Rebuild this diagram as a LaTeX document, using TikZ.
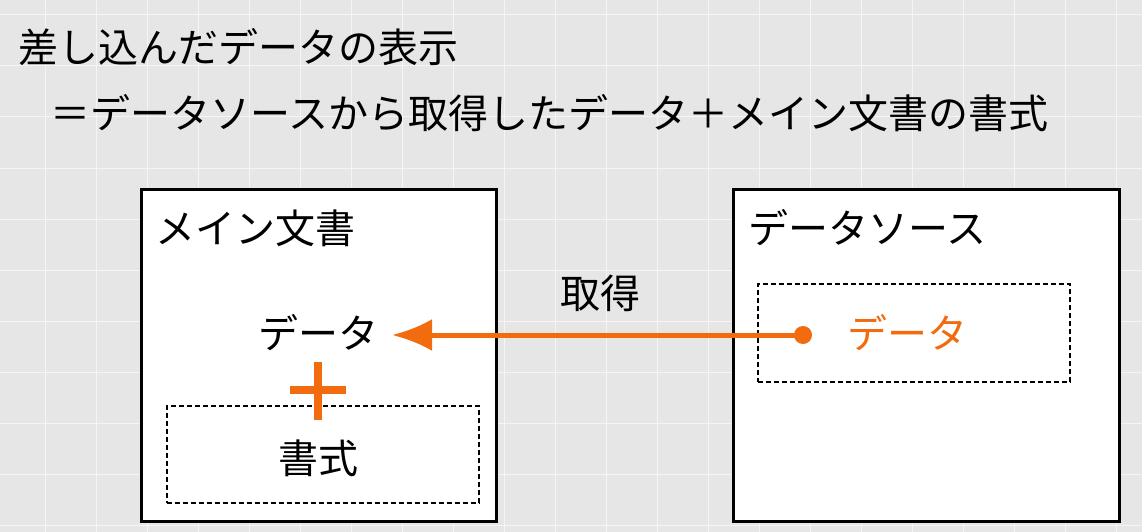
\documentclass[tikz,border=0pt]{standalone}
\usepackage{fontspec}
\usetikzlibrary{arrows.meta}
\setmainfont{Noto Sans CJK JP}
\definecolor{bg}{HTML}{E6E6E6}
\definecolor{org}{HTML}{F26B0F}
\tikzset{
 t/.style={font=\fontsize{40}{44}\selectfont, inner sep=0pt},
 frame/.style={draw=black, line width=2.5pt, fill=white},
 dbox/.style={draw=black, line width=2pt, dashed, dash pattern=on 5pt off 3pt},
}
\begin{document}
\begin{tikzpicture}[x=1pt,y=-1pt]
\fill[bg] (0,0) rectangle (1142,532);
\useasboundingbox (0,0) rectangle (1142,532);
\foreach \x in {45,96,...,1142} \draw[white!60!bg, line width=1pt] (\x,0) -- (\x,532);
\foreach \y in {15,66,...,532} \draw[white!60!bg, line width=1pt] (0,\y) -- (1142,\y);
\node[t, anchor=west] (title1) at (18,47) {差し込んだデータの表示};
\node[t, anchor=west] (title2) at (50,113) {＝データソースから取得したデータ＋メイン文書の書式};
\node[frame, minimum width=355, minimum height=332, anchor=north west] (main) at (140,188) {};
\node[frame, minimum width=386, minimum height=332, anchor=north west] (src) at (732,188) {};
\node[dbox, minimum width=312, minimum height=97, anchor=north west] (fmtbox) at (166,405) {};
\node[dbox, minimum width=312, minimum height=98, anchor=north west] (srcbox) at (757,283) {};
\node[t, anchor=west] (mainlbl) at (155,228) {メイン文書};
\node[t, anchor=west] (srclbl) at (748,228) {データソース};
\node[t] (data) at (318,333) {データ};
\node[t] (fmt) at (318,458) {書式};
\node[t, text=org] (odata) at (907,333) {データ};
\node[t] (get) at (600,293) {取得};
\fill[org] (803,335) circle (9);
\coordinate (dot) at (803,335);
\coordinate (tip) at (392,335);
\draw[org, line width=5pt, -{Latex[length=40pt,width=32pt]}] (dot) -- (tip);
\draw[org, line width=8pt] (290,390) -- (346,390) (318,362) -- (318,420);
\end{tikzpicture}
\end{document}
